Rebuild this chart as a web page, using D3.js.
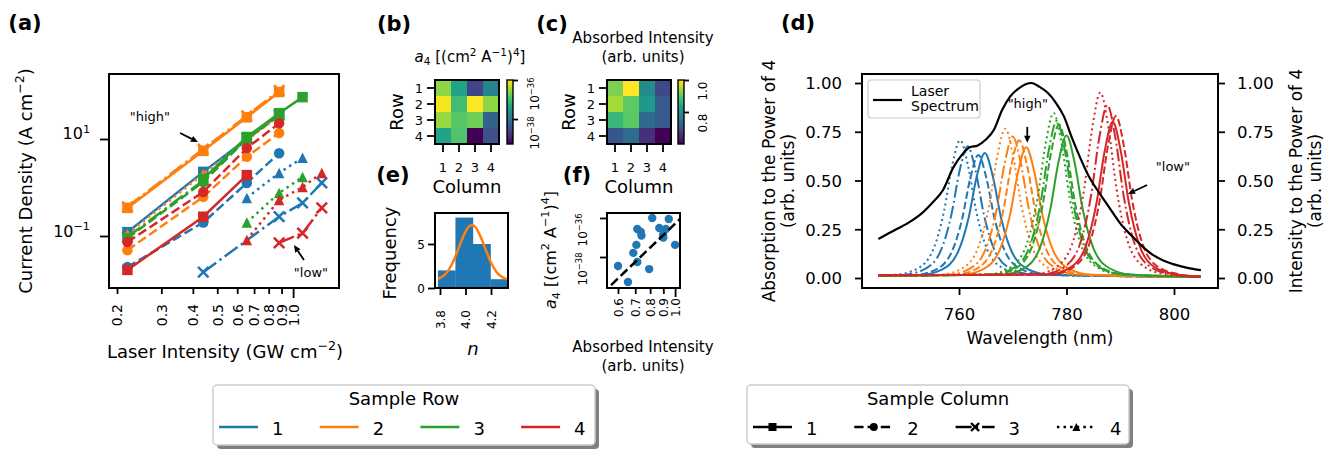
<!DOCTYPE html>
<html>
<head>
<meta charset="utf-8">
<script src="https://cdn.jsdelivr.net/npm/d3@7"></script>
<style>
  html, body { margin: 0; padding: 0; background: #fff; }
  svg { display: block; }
  svg text { font-family: "DejaVu Sans", sans-serif; fill: #000; white-space: pre; }
</style>
</head>
<body>
<svg id="fig" width="1340" height="451"></svg>
<script>
// ================= Data =================
const sampleRows = [1, 2, 3, 4];
const sampleCols = [1, 2, 3, 4];

// (a) current density (A cm^-2) at each laser intensity (GW cm^-2); null = not measured
const laserIntensity = [0.22, 0.44, 0.655, 0.88, 1.09, 1.30];
const currentRow1 = [
  [0.12, 2.1, 10, 32, null, null],
  [0.023, 0.19, 1.24, 5.1, null, null],
  [null, 0.018, null, 0.25, 0.48, 1.24],
  [null, null, 0.61, 2.0, 4.1, null]
];
const currentRow2 = [
  [0.38, 5.7, 28, 93, null, null],
  [0.051, 0.64, 4.3, 13.3, null, null],
  [0.40, 6.2, 30, 100, null, null],
  [0.11, 1.9, 9.5, 30, null, null]
];
const currentRow3 = [
  [null, 1.5, 11, 34, 73, null],
  [0.09, 1.3, 10, 30, null, null],
  [0.095, 1.4, 10.5, 31, null, null],
  [null, null, 0.19, 0.77, 1.65, null]
];
const currentRow4 = [
  [0.02, 0.25, 1.8, null, null, null],
  [0.075, 0.81, 6.5, 21, null, null],
  [null, null, null, 0.072, 0.115, 0.38],
  [null, null, 0.083, 0.55, 1.02, 2.0]
];
const intensityTicks = [0.2, 0.3, 0.4, 0.5, 0.6, 0.7, 0.8, 0.9, 1.0];
const intensityTickLabels = ["0.2", "0.3", "0.4", "0.5", "0.6", "0.7", "0.8", "0.9", "1.0"];
const currentTicks = [0.1, 10];
const currentTickExp = ["−1", "1"];

// (b) fitted a4, log10 of (cm^2 A^-1)^4, rows x columns
const a4Log10 = [
  [-36.56, -37.38, -38.62, -37.79],
  [-36.05, -37.00, -36.00, -36.56],
  [-36.51, -36.87, -36.72, -38.26],
  [-37.38, -36.90, -39.28, -38.46]
];
const a4TickLog10 = [-38, -36];

// (c) absorbed intensity (arb. units), rows x columns
const absorbedIntensity = [
  [0.921, 1.000, 0.793, 0.688],
  [0.945, 0.900, 0.815, 0.713],
  [0.868, 0.898, 0.736, 0.713],
  [0.707, 0.740, 0.656, 0.600]
];
const absorbedTicks = [0.8, 1.0];

// (d) laser spectrum (to the power of 4) and absorption spectra (to the power of 4)
const laserWavelength = [745, 748, 751, 753, 755, 757, 759, 760.5, 762, 763.5, 765, 766.5, 768, 769.5, 771, 772.5, 773.5, 775, 776.5, 778, 779.5, 781, 782.5, 784, 786, 788, 790, 792, 794, 796, 798, 800, 802.5, 805];
const laserPower4 = [0.20, 0.245, 0.29, 0.33, 0.385, 0.45, 0.57, 0.63, 0.67, 0.68, 0.71, 0.76, 0.86, 0.93, 0.97, 0.995, 1.0, 0.98, 0.95, 0.90, 0.83, 0.72, 0.62, 0.53, 0.44, 0.36, 0.28, 0.22, 0.165, 0.12, 0.09, 0.07, 0.052, 0.04];
const spectrumStart = 745, spectrumEnd = 805;
// absorption peak centres (nm), one per sample column
const absorptionCenters = [
  [764.8, 763.6, 761.6, 760.2],
  [772.5, 771.2, 770.0, 768.6],
  [780.0, 778.6, 778.2, 777.6],
  [788.6, 789.2, 787.6, 786.3]
];
// sample points relative to each centre (nm)
const absorptionOffsets = [-12, -8, -5, -3, -1.5, 0, 1.5, 3, 5, 8, 12];
// values at 745 nm, at centre+offsets, and at 805 nm
const absorptionRow1 = [
  [0.012, 0.016, 0.043, 0.133, 0.310, 0.520, 0.641, 0.520, 0.312, 0.136, 0.046, 0.018, 0.006],
  [0.012, 0.015, 0.042, 0.131, 0.305, 0.512, 0.631, 0.512, 0.307, 0.134, 0.045, 0.017, 0.006],
  [0.012, 0.016, 0.045, 0.140, 0.327, 0.549, 0.676, 0.549, 0.329, 0.143, 0.048, 0.018, 0.006],
  [0.013, 0.017, 0.047, 0.146, 0.341, 0.573, 0.706, 0.573, 0.343, 0.149, 0.050, 0.019, 0.006]
];
const absorptionRow2 = [
  [0.012, 0.016, 0.045, 0.139, 0.325, 0.545, 0.671, 0.545, 0.327, 0.142, 0.047, 0.017, 0.006],
  [0.012, 0.017, 0.047, 0.146, 0.341, 0.573, 0.706, 0.573, 0.343, 0.148, 0.049, 0.018, 0.006],
  [0.012, 0.017, 0.048, 0.150, 0.351, 0.589, 0.726, 0.589, 0.353, 0.152, 0.050, 0.018, 0.006],
  [0.012, 0.017, 0.050, 0.158, 0.370, 0.622, 0.766, 0.622, 0.372, 0.160, 0.052, 0.018, 0.006]
];
const absorptionRow3 = [
  [0.012, 0.017, 0.048, 0.151, 0.353, 0.593, 0.731, 0.593, 0.355, 0.153, 0.050, 0.018, 0.006],
  [0.012, 0.018, 0.051, 0.162, 0.380, 0.638, 0.786, 0.638, 0.382, 0.164, 0.053, 0.019, 0.006],
  [0.012, 0.018, 0.052, 0.166, 0.389, 0.654, 0.806, 0.654, 0.391, 0.168, 0.054, 0.019, 0.006],
  [0.012, 0.019, 0.055, 0.174, 0.408, 0.686, 0.846, 0.686, 0.410, 0.176, 0.057, 0.020, 0.006]
];
const absorptionRow4 = [
  [0.014, 0.018, 0.052, 0.165, 0.387, 0.650, 0.801, 0.650, 0.387, 0.165, 0.052, 0.018, 0.006],
  [0.014, 0.018, 0.054, 0.171, 0.401, 0.674, 0.831, 0.674, 0.401, 0.171, 0.054, 0.018, 0.006],
  [0.014, 0.019, 0.057, 0.182, 0.428, 0.719, 0.886, 0.719, 0.428, 0.182, 0.057, 0.019, 0.006],
  [0.014, 0.020, 0.061, 0.195, 0.459, 0.771, 0.951, 0.771, 0.459, 0.195, 0.061, 0.020, 0.006]
];
const wavelengthTicks = [760, 780, 800];
const powerTicks = [0, 0.25, 0.5, 0.75, 1.0];

// (e) histogram of fitted exponents n, with a Gaussian fit
const nBinEdges = [3.784, 3.921, 4.058, 4.196, 4.333];
const nCounts = [2, 8, 5, 1];
const nFitX = [3.784, 3.82, 3.86, 3.90, 3.94, 3.98, 4.02, 4.05, 4.08, 4.12, 4.16, 4.20, 4.24, 4.28, 4.333];
const nFitY = [1.05, 1.30, 1.88, 2.90, 4.29, 5.78, 6.87, 7.15, 6.87, 5.78, 4.29, 2.90, 1.88, 1.30, 0.96];
const nTicks = [3.8, 4.0, 4.2];
const countTicks = [0, 5];

// (f) power-law fit of a4 against absorbed intensity
const a4FitAbsorbed = [0.564, 1.046];
const a4FitLog10 = [-39.44, -36.05];
const absorbedLogTicks = [0.6, 0.7, 0.8, 0.9, 1.0];

// ================= Styling =================
const TAB = ["#1f77b4", "#ff7f0e", "#2ca02c", "#d62728"];
const DASH_A = [null, "9.25,4", "16,4,2.5,4", "2.5,4.1"];
const DASH_D = [null, "7.4,3.2", "12.8,3.2,2,3.2", "2,3.3"];
const MARKS = ["s", "o", "x", "^"];

const svg = d3.select("#fig");
const defs = svg.append("defs");

function clip(id, x, y, w, h) {
  defs.append("clipPath").attr("id", id).append("rect")
    .attr("x", x).attr("y", y).attr("width", w).attr("height", h);
}
function rich(t, parts, size) {
  t.text(null);
  let cur = 0;
  parts.forEach(([s, k]) => {
    const tgt = k === "sup" ? -0.42 * size : (k === "sub" ? 0.22 * size : 0);
    const ts = t.append("tspan").attr("dy", (tgt - cur).toFixed(2)).text(s);
    cur = tgt;
    if (k === "sup" || k === "sub") ts.attr("font-size", (size * 0.7).toFixed(2));
    if (k === "it") ts.attr("font-style", "italic");
  });
  return t;
}
function label(g, x, y, parts, size, opt = {}) {
  const t = g.append("text").attr("x", x).attr("y", y)
    .attr("font-size", size).attr("text-anchor", opt.anchor || "middle");
  if (opt.rotate != null) t.attr("transform", `rotate(${opt.rotate},${x},${y})`);
  if (opt.bold) t.attr("font-weight", "bold");
  rich(t, typeof parts === "string" ? [[parts, ""]] : parts, size);
  return t;
}
function frame(g, l, t, r, b, w = 2) {
  g.append("rect").attr("x", l).attr("y", t).attr("width", r - l).attr("height", b - t)
    .attr("fill", "none").attr("stroke", "#000").attr("stroke-width", w);
}
function markerPath(kind, s) {
  const h = s / 2;
  if (kind === "s") return `M${-h},${-h}H${h}V${h}H${-h}Z`;
  if (kind === "o") return `M${h},0A${h},${h} 0 1,1 ${-h},0A${h},${h} 0 1,1 ${h},0Z`;
  if (kind === "^") return `M0,${-h}L${h},${h}L${-h},${h}Z`;
  return `M${-h},${-h}L${h},${h}M${-h},${h}L${h},${-h}`;
}
function marker(g, kind, x, y, s, color, sw) {
  const p = g.append("path").attr("d", markerPath(kind, s)).attr("transform", `translate(${x},${y})`);
  if (kind === "x") p.attr("fill", "none").attr("stroke", color).attr("stroke-width", sw || 2.5);
  else p.attr("fill", color).attr("stroke", "none");
}
function styleAxis(g, size) {
  g.attr("font-family", null).attr("font-size", null);
  g.select(".domain").remove();
  g.selectAll(".tick line").attr("stroke", "#000").attr("stroke-width", 1.8);
  g.selectAll(".tick text").attr("font-size", size).attr("fill", null);
}
function arrow(g, x1, y1, x2, y2) {
  const a = Math.atan2(y2 - y1, x2 - x1), L = 7, W = 3.2;
  const bx = x2 - L * Math.cos(a), by = y2 - L * Math.sin(a);
  g.append("line").attr("x1", x1).attr("y1", y1).attr("x2", bx).attr("y2", by)
    .attr("stroke", "#000").attr("stroke-width", 1.8);
  const px = -Math.sin(a) * W, py = Math.cos(a) * W;
  g.append("path").attr("d", `M${x2},${y2}L${bx + px},${by + py}L${bx - px},${by - py}Z`).attr("fill", "#000");
}

// ================= Panel labels =================
const gLab = svg.append("g");
[["(a)", 25, 30], ["(b)", 394, 31], ["(c)", 552, 31], ["(d)", 798, 30], ["(e)", 393, 182], ["(f)", 577, 182]]
  .forEach(([s, x, y]) => label(gLab, x, y, s, 21, { bold: true }));

// ================= (a) current density =================
(function () {
  const B = { l: 109, r: 339, t: 74, b: 288 };
  const g = svg.append("g");
  const x = d3.scaleLog().domain([0.1859, 1.521]).range([B.l, B.r]);
  const y = d3.scaleLog().domain([0.008472, 218.8]).range([B.b, B.t]);
  clip("clipA", B.l, B.t, B.r - B.l, B.b - B.t);
  const plot = g.append("g").attr("clip-path", "url(#clipA)");
  [currentRow1, currentRow2, currentRow3, currentRow4].forEach((row, r) => row.forEach((vals, c) => {
    const pts = laserIntensity.map((xi, i) => [xi, vals[i]]).filter(d => d[1] != null);
    plot.append("path").attr("d", d3.line().x(d => x(d[0])).y(d => y(d[1]))(pts))
      .attr("fill", "none").attr("stroke", TAB[r]).attr("stroke-width", 2.5)
      .attr("stroke-dasharray", DASH_A[c]);
    pts.forEach(d => marker(plot, MARKS[c], x(d[0]), y(d[1]), 10.5, TAB[r]));
  }));
  frame(g, B.l, B.t, B.r, B.b);

  const ax = g.append("g").attr("transform", `translate(0,${B.b})`)
    .call(d3.axisBottom(x).tickValues(intensityTicks).tickFormat((d, i) => intensityTickLabels[i]).tickSizeOuter(0));
  styleAxis(ax, 14);
  ax.selectAll(".tick line").attr("y2", d => (d === 1 ? 10 : 6));
  ax.selectAll(".tick text").attr("x", 0).attr("y", 0).attr("dy", "0.35em")
    .attr("text-anchor", "end").attr("transform", "translate(0,16) rotate(-90)");

  const ay = g.append("g").attr("transform", `translate(${B.l},0)`)
    .call(d3.axisLeft(y).tickValues(currentTicks).tickSize(9).tickSizeOuter(0));
  styleAxis(ay, 16);
  ay.selectAll(".tick text").attr("x", -19).attr("dy", 7.5).attr("text-anchor", "end")
    .each(function (d, i) { rich(d3.select(this), [["10", ""], [currentTickExp[i], "sup"]], 16); });

  label(g, 225, 358, [["Laser Intensity (GW cm", ""], ["−2", "sup"], [")", ""]], 18);
  label(g, 32, 181, [["Current Density (A cm", ""], ["−2", "sup"], [")", ""]], 18, { rotate: -90 });

  // annotations
  label(g, x(0.270), y(23.5), "\"high\"", 13).attr("dy", "0.35em");
  arrow(g, x(0.356), y(13.3), x(0.419), y(8.67));
  label(g, x(1.177), y(0.0143), "\"low\"", 13).attr("dy", "0.35em");
  arrow(g, x(1.104), y(0.032), x(1.008), y(0.065));
})();

// ================= (b), (c) heatmaps =================
function heatPanel(x0, grid, colorDomain, cbX, cbTicks, cbLabelParts, cbLabelX, cbLabelY, title) {
  const g = svg.append("g");
  const color = d3.scaleSequential(d3.interpolateViridis).domain(colorDomain);
  const xb = d3.scaleBand().domain(sampleCols).range([x0, x0 + 64]);
  const yb = d3.scaleBand().domain(sampleRows).range([80, 144]);
  grid.forEach((row, r) => row.forEach((v, c) => {
    g.append("rect").attr("x", xb(sampleCols[c])).attr("y", yb(sampleRows[r]))
      .attr("width", xb.bandwidth() + 0.3).attr("height", yb.bandwidth() + 0.3)
      .attr("fill", color(v));
  }));
  frame(g, x0, 80, x0 + 64, 144);
  const ax = g.append("g").attr("transform", "translate(0,144)")
    .call(d3.axisBottom(xb).tickSize(8).tickSizeOuter(0));
  styleAxis(ax, 13);
  ax.selectAll(".tick text").attr("y", 0).attr("dy", 28);
  const ay = g.append("g").attr("transform", `translate(${x0},0)`)
    .call(d3.axisLeft(yb).tickSize(8).tickSizeOuter(0));
  styleAxis(ay, 13);
  ay.selectAll(".tick text").attr("x", -12).attr("dy", "0.36em");
  label(g, x0 + 32, 193, "Column", 18);
  label(g, x0 - 32, 112, "Row", 18, { rotate: -90 });
  title(g);

  // colour bar
  const id = "cb" + x0;
  const grad = defs.append("linearGradient").attr("id", id)
    .attr("x1", 0).attr("y1", 1).attr("x2", 0).attr("y2", 0);
  d3.range(0, 1.0001, 0.05).forEach(t => grad.append("stop").attr("offset", t).attr("stop-color", d3.interpolateViridis(t)));
  g.append("rect").attr("x", cbX).attr("y", 80).attr("width", 6).attr("height", 64).attr("fill", `url(#${id})`)
    .attr("stroke", "#000").attr("stroke-width", 1.4);
  const cs = d3.scaleLinear().domain(colorDomain).range([144, 80]);
  const ac = g.append("g").attr("transform", `translate(${cbX + 6},0)`)
    .call(d3.axisRight(cs).tickValues(cbTicks).tickSize(5).tickSizeOuter(0));
  styleAxis(ac, 12);
  ac.selectAll(".tick text").attr("x", 0).attr("y", 0).attr("dy", 0).attr("text-anchor", "end")
    .attr("transform", `translate(${cbLabelX},${cbLabelY}) rotate(-90)`)
    .each(function (d, i) { rich(d3.select(this), cbLabelParts[i], 12); });
}
heatPanel(435, a4Log10, d3.extent(a4Log10.flat()), 507, a4TickLog10,
  a4TickLog10.map(v => [["10", ""], ["−" + Math.abs(v), "sup"]]), 26, -3,
  g => label(g, 470, 62, [["a", "it"], ["4", "sub"], [" [(cm", ""], ["2", "sup"], [" A", ""], ["−1", "sup"], [")", ""], ["4", "sup"], ["]", ""]], 15));
heatPanel(607, absorbedIntensity, d3.extent(absorbedIntensity.flat()), 678, absorbedTicks,
  absorbedTicks.map(v => [[v.toFixed(1), ""]]), 23, 1,
  g => { label(g, 643, 43, "Absorbed Intensity", 15); label(g, 643, 62, "(arb. units)", 15); });

// ================= (e) histogram of n =================
(function () {
  const B = { l: 435, r: 508, t: 213, b: 288 };
  const g = svg.append("g");
  const x = d3.scaleLinear().domain([3.7608, 4.3333]).range([B.l, B.r]);
  const y = d3.scaleLinear().domain([0, 8.52]).range([B.b, B.t]);
  nCounts.forEach((cnt, i) => {
    g.append("rect").attr("x", x(nBinEdges[i])).attr("y", y(cnt))
      .attr("width", x(nBinEdges[i + 1]) - x(nBinEdges[i]) + 0.3).attr("height", y(0) - y(cnt))
      .attr("fill", TAB[0]);
  });
  g.append("path").attr("d", d3.line().curve(d3.curveMonotoneX).x(d => x(d[0])).y(d => y(d[1]))(nFitX.map((v, i) => [v, nFitY[i]])))
    .attr("fill", "none").attr("stroke", TAB[1]).attr("stroke-width", 2.5);
  frame(g, B.l, B.t, B.r, B.b);
  const ax = g.append("g").attr("transform", `translate(0,${B.b})`)
    .call(d3.axisBottom(x).tickValues(nTicks).tickFormat(d3.format(".1f")).tickSize(7).tickSizeOuter(0));
  styleAxis(ax, 12);
  ax.selectAll(".tick text").attr("x", 0).attr("y", 0).attr("dy", "0.35em").attr("text-anchor", "end")
    .attr("transform", "translate(0,22) rotate(-90)");
  const ay = g.append("g").attr("transform", `translate(${B.l},0)`)
    .call(d3.axisLeft(y).tickValues(countTicks).tickSize(7).tickSizeOuter(0));
  styleAxis(ay, 12);
  ay.selectAll(".tick text").attr("x", -10).attr("dy", "0.36em");
  label(g, 473, 355, [["n", "it"]], 18);
  label(g, 396, 253, "Frequency", 18, { rotate: -90 });
})();

// ================= (f) a4 vs absorbed intensity =================
(function () {
  const B = { l: 607, r: 680, t: 213, b: 288 };
  const g = svg.append("g");
  const x = d3.scaleLog().domain([0.5437, 1.045]).range([B.l, B.r]);
  const y = d3.scaleLog().domain([Math.pow(10, -39.59), Math.pow(10, -35.744)]).range([B.b, B.t]);
  clip("clipF", B.l, B.t, B.r - B.l, B.b - B.t);
  const plot = g.append("g").attr("clip-path", "url(#clipF)");
  absorbedIntensity.forEach((row, r) => row.forEach((v, c) => {
    plot.append("circle").attr("cx", x(v)).attr("cy", y(Math.pow(10, a4Log10[r][c]))).attr("r", 4.2).attr("fill", TAB[0]);
  }));
  plot.append("path").attr("d", d3.line().x(d => x(d[0])).y(d => y(Math.pow(10, d[1])))(a4FitAbsorbed.map((v, i) => [v, a4FitLog10[i]])))
    .attr("stroke", "#000").attr("stroke-width", 2.5).attr("stroke-dasharray", "9.25,4").attr("fill", "none");
  frame(g, B.l, B.t, B.r, B.b);
  const ax = g.append("g").attr("transform", `translate(0,${B.b})`)
    .call(d3.axisBottom(x).tickValues(absorbedLogTicks).tickFormat(d3.format(".1f")).tickSize(6).tickSizeOuter(0));
  styleAxis(ax, 12);
  ax.selectAll(".tick line").attr("y2", d => (d === 1 ? 9 : 6));
  ax.selectAll(".tick text").attr("x", 0).attr("y", 0).attr("dy", "0.35em").attr("text-anchor", "end")
    .attr("transform", "translate(0,10) rotate(-90)");
  const ay = g.append("g").attr("transform", `translate(${B.l},0)`)
    .call(d3.axisLeft(y).tickValues(a4TickLog10.map(v => Math.pow(10, v))).tickSize(7).tickSizeOuter(0));
  styleAxis(ay, 12);
  ay.selectAll(".tick text").attr("x", 0).attr("y", 0).attr("dy", 0).attr("text-anchor", "end")
    .attr("transform", "translate(-20,-5) rotate(-90)")
    .each(function (d, i) { rich(d3.select(this), [["10", ""], ["−" + Math.abs(a4TickLog10[i]), "sup"]], 12); });
  label(g, 643, 352, "Absorbed Intensity", 15);
  label(g, 643, 371, "(arb. units)", 15);
  label(g, 556, 250, [["a", "it"], ["4", "sub"], [" [(cm", ""], ["2", "sup"], [" A", ""], ["−1", "sup"], [")", ""], ["4", "sup"], ["]", ""]], 16, { rotate: -90 });
})();

// ================= (d) spectra =================
(function () {
  const B = { l: 862, r: 1218, t: 74, b: 288 };
  const g = svg.append("g");
  const x = d3.scaleLinear().domain([741.95, 808.19]).range([B.l, B.r]);
  const y = d3.scaleLinear().domain([-0.0513, 1.0462]).range([B.b, B.t]);
  const y2 = d3.scaleLinear().domain([-0.0513, 1.0462]).range([B.b, B.t]);
  clip("clipD", B.l, B.t, B.r - B.l, B.b - B.t);
  const plot = g.append("g").attr("clip-path", "url(#clipD)");
  const line = d3.line().curve(d3.curveMonotoneX).x(d => x(d[0])).y(d => y(d[1]));
  [absorptionRow1, absorptionRow2, absorptionRow3, absorptionRow4].forEach((row, r) => row.forEach((vals, c) => {
    const xs = [spectrumStart, ...absorptionOffsets.map(o => absorptionCenters[r][c] + o), spectrumEnd];
    const pts = xs.map((w, i) => [w, vals[i]]).filter(d => d[0] >= spectrumStart && d[0] <= spectrumEnd);
    plot.append("path").attr("d", line(pts)).attr("fill", "none").attr("stroke", TAB[r])
      .attr("stroke-width", 2).attr("stroke-dasharray", DASH_D[c]);
  }));
  plot.append("path")
    .attr("d", d3.line().curve(d3.curveMonotoneX).x(d => x(d[0])).y(d => y2(d[1]))(laserWavelength.map((w, i) => [w, laserPower4[i]])))
    .attr("fill", "none").attr("stroke", "#000").attr("stroke-width", 2.2);
  frame(g, B.l, B.t, B.r, B.b);

  const ax = g.append("g").attr("transform", `translate(0,${B.b})`)
    .call(d3.axisBottom(x).tickValues(wavelengthTicks).tickSize(7).tickSizeOuter(0));
  styleAxis(ax, 16.5);
  ax.selectAll(".tick text").attr("y", 32).attr("dy", 0);
  const ay = g.append("g").attr("transform", `translate(${B.l},0)`)
    .call(d3.axisLeft(y).tickValues(powerTicks).tickFormat(d3.format(".2f")).tickSize(7).tickSizeOuter(0));
  styleAxis(ay, 16.5);
  ay.selectAll(".tick text").attr("x", -20).attr("dy", "0.36em");
  const ay2 = g.append("g").attr("transform", `translate(${B.r},0)`)
    .call(d3.axisRight(y2).tickValues(powerTicks).tickFormat(d3.format(".2f")).tickSize(7).tickSizeOuter(0));
  styleAxis(ay2, 16.5);
  ay2.selectAll(".tick text").attr("x", 19).attr("dy", "0.36em");

  label(g, 1040, 344, "Wavelength (nm)", 17);
  label(g, 775, 181, "Absorption to the Power of 4", 17, { rotate: -90 });
  label(g, 794, 181, "(arb. units)", 17, { rotate: -90 });
  label(g, 1302, 181, "Intensity to the Power of 4", 17, { rotate: -90 });
  label(g, 1321, 181, "(arb. units)", 17, { rotate: -90 });

  // legend
  g.append("rect").attr("x", 868).attr("y", 80).attr("width", 112).attr("height", 38).attr("rx", 3)
    .attr("fill", "#fff").attr("fill-opacity", 0.8).attr("stroke", "#ccc").attr("stroke-width", 1.2);
  g.append("line").attr("x1", 873).attr("x2", 902).attr("y1", 100).attr("y2", 100).attr("stroke", "#000").attr("stroke-width", 2.2);
  label(g, 911, 96, "Laser", 14, { anchor: "start" });
  label(g, 911, 111, "Spectrum", 14, { anchor: "start" });

  // annotations
  label(g, x(772.8), y(0.872), "\"high\"", 13).attr("dy", "0.35em");
  arrow(g, x(772.7), y(0.775), x(772.7), y(0.693));
  label(g, x(799.8), y(0.549), "\"low\"", 13).attr("dy", "0.35em");
  arrow(g, x(795.0), y(0.477), x(791.45), y(0.431));
})();

// ================= Legends =================
function legendBox(g, x, y, w, h) {
  g.append("rect").attr("x", x + 4).attr("y", y + 4).attr("width", w).attr("height", h).attr("rx", 4).attr("fill", "#7f7f7f");
  g.append("rect").attr("x", x).attr("y", y).attr("width", w).attr("height", h).attr("rx", 4)
    .attr("fill", "#fff").attr("stroke", "#cccccc").attr("stroke-width", 1.5);
}
(function () {
  const g = svg.append("g");
  legendBox(g, 213, 385, 382, 60);
  label(g, 404, 405, "Sample Row", 18);
  sampleRows.forEach((r, i) => {
    const x0 = 219 + i * 100.7;
    g.append("line").attr("x1", x0).attr("x2", x0 + 39).attr("y1", 427).attr("y2", 427)
      .attr("stroke", TAB[i]).attr("stroke-width", 2.5);
    label(g, x0 + 53, 435, String(r), 18, { anchor: "start" });
  });
  const g2 = svg.append("g");
  legendBox(g2, 747, 385, 382, 59);
  label(g2, 938, 405, "Sample Column", 18);
  sampleCols.forEach((c, i) => {
    const x0 = 753 + i * 101.3;
    g2.append("line").attr("x1", x0).attr("x2", x0 + 39).attr("y1", 427).attr("y2", 427)
      .attr("stroke", "#000").attr("stroke-width", 2.5).attr("stroke-dasharray", DASH_A[i]);
    marker(g2, MARKS[i], x0 + 19.5, 427, 8, "#000", 2.4);
    label(g2, x0 + 53, 435, String(c), 18, { anchor: "start" });
  });
})();
</script>
</body>
</html>
